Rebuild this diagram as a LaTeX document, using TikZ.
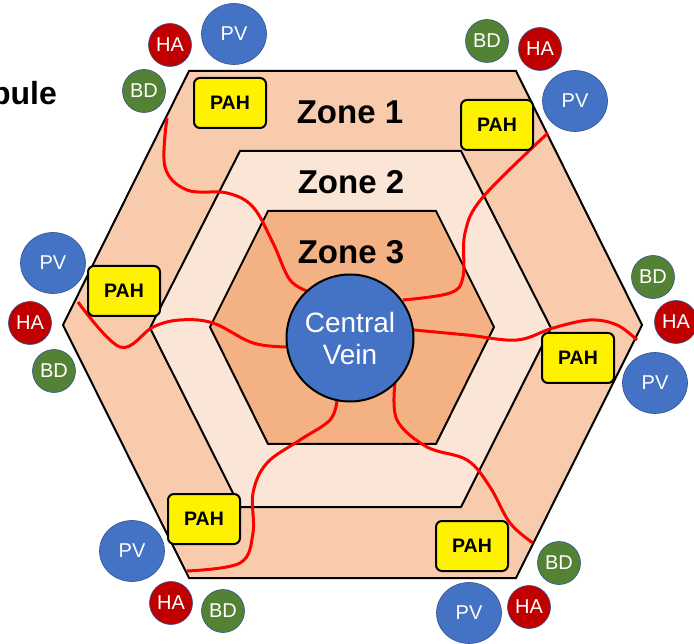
\documentclass[tikz,border=0pt]{standalone}
\usepackage{fontspec}
\setmainfont{Liberation Sans}
\usetikzlibrary{shapes.geometric}
\definecolor{zoneA}{HTML}{F8CBAD}
\definecolor{zoneB}{HTML}{FBE5D6}
\definecolor{zoneC}{HTML}{F4B183}
\definecolor{pvblue}{HTML}{4472C4}
\definecolor{hared}{HTML}{C00000}
\definecolor{bdgreen}{HTML}{548235}
\definecolor{ringblue}{HTML}{2F528F}
\definecolor{sred}{HTML}{FF0000}
\begin{document}
\begin{tikzpicture}[x=1pt,y=-1pt,
  zone/.style={draw=black,line width=2pt,line join=miter},
  sinus/.style={draw=sred,line width=3pt},
  pah/.style={draw=black,line width=2pt,fill=yellow,rounded corners=6pt,minimum width=72pt,minimum height=50pt,inner sep=0pt,font=\fontsize{19.5}{20}\selectfont\bfseries},
  pv/.style={ellipse,draw=ringblue,line width=0.6pt,fill=pvblue,text=white,minimum width=65pt,minimum height=61pt,inner sep=0pt,font=\fontsize{20}{22}\selectfont},
  ha/.style={circle,draw=ringblue,line width=0.6pt,fill=hared,text=white,minimum size=43pt,inner sep=0pt,font=\fontsize{20}{22}\selectfont},
  bd/.style={circle,draw=ringblue,line width=0.6pt,fill=bdgreen,text=white,minimum size=43pt,inner sep=0pt,font=\fontsize{20}{22}\selectfont},
  zonelabel/.style={font=\fontsize{33}{34}\selectfont\bfseries,inner sep=0pt}
]
\useasboundingbox (0,0) rectangle (694,644);
\clip (0,0) rectangle (694,644);
% zones
\path[zone,fill=zoneA] (189,71) -- (516,71) -- (642,325) -- (516,578) -- (189,578) -- (63,325) -- cycle;
\path[zone,fill=zoneB] (240,151) -- (461,151) -- (551,328) -- (461,507) -- (240,507) -- (150,328) -- cycle;
\path[zone,fill=zoneC] (268,211) -- (436,211) -- (494,327) -- (436,444) -- (268,444) -- (210,327) -- cycle;
% sinusoids
\draw[sinus] plot[smooth,tension=0.6] coordinates {(167,118) (165,167) (187,190) (227,193) (253,207) (273,243) (290,280) (310,292)};
\draw[sinus] plot[smooth,tension=0.6] coordinates {(548,133) (483,197) (465,233) (463,277) (450,293) (403,300)};
\draw[sinus] plot[smooth,tension=0.6] coordinates {(78,302) (120,347) (153,327) (180,320) (213,323) (253,343) (288,347)};
\draw[sinus] plot[smooth,tension=0.6] coordinates {(414,330) (467,335) (517,340) (553,328) (590,320) (617,325) (637,340)};
\draw[sinus] plot[smooth,tension=0.6] coordinates {(337,400) (330,420) (300,440) (267,463) (253,493) (253,533) (240,563) (187,571)};
\draw[sinus] plot[smooth,tension=0.6] coordinates {(395,383) (397,420) (427,447) (467,460) (490,487) (510,523) (533,543)};
% central vein
\node[circle,draw=black,line width=2pt,fill=pvblue,minimum size=127pt,inner sep=0pt,text=white,align=center,font=\fontsize{28}{32}\selectfont] (cv) at (350,338) {Central\\Vein};
% zone labels
\node[zonelabel] (z1) at (350,112) {Zone 1};
\node[zonelabel] (z2) at (351,182) {Zone 2};
\node[zonelabel] (z3) at (351,252) {Zone 3};
% title fragment
\node[anchor=base east,inner sep=0pt,font=\fontsize{32}{34}\selectfont\bfseries] (title) at (57,105) {Lobule};
% PAH boxes
\node[pah] (p1) at (230,103) {PAH};
\node[pah] (p2) at (497,125) {PAH};
\node[pah] (p3) at (124,291) {PAH};
\node[pah] (p4) at (578,358) {PAH};
\node[pah] (p5) at (204,519) {PAH};
\node[pah] (p6) at (472,546) {PAH};
% portal triads
\node[pv] (pv1) at (234,34) {PV};
\node[ha] (ha1) at (170,45) {HA};
\node[bd] (bd1) at (144,91) {BD};
\node[bd] (bd2) at (487,41) {BD};
\node[ha] (ha2) at (540,49) {HA};
\node[pv] (pv2) at (575,101) {PV};
\node[bd] (bd3) at (653,277) {BD};
\node[ha] (ha3) at (676,322) {HA};
\node[pv] (pv3) at (655,383) {PV};
\node[pv] (pv4) at (53,263) {PV};
\node[ha] (ha4) at (30,323) {HA};
\node[bd] (bd4) at (54,371) {BD};
\node[pv] (pv5) at (132,551) {PV};
\node[ha] (ha5) at (171,603) {HA};
\node[bd] (bd5) at (223,611) {BD};
\node[bd] (bd6) at (559,563) {BD};
\node[ha] (ha6) at (529,607) {HA};
\node[pv] (pv6) at (469,613) {PV};
\end{tikzpicture}
\end{document}
